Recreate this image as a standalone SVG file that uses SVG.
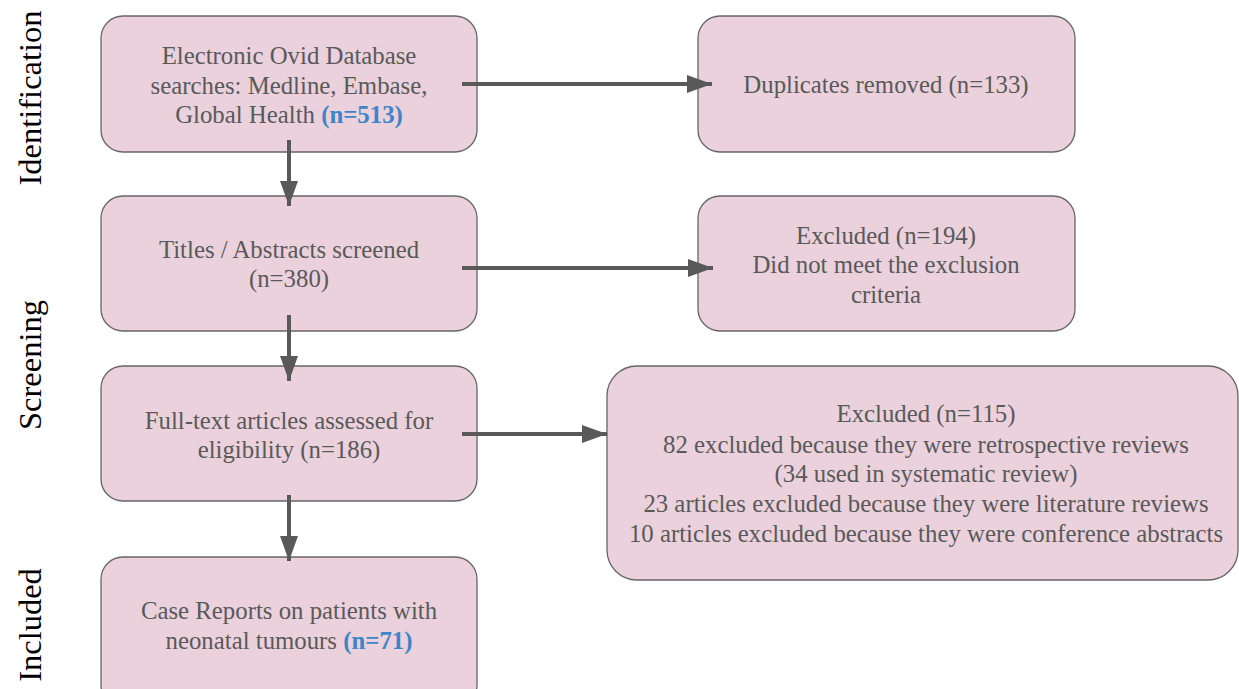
<svg xmlns="http://www.w3.org/2000/svg" width="1239" height="689" viewBox="0 0 1239 689">
<defs>
<style>
.box{fill:#ead1dc;stroke:#666;stroke-width:1.3}
.t{font-family:"Liberation Serif","Times New Roman",serif;font-size:24.8px;fill:#595959;text-anchor:middle}
.n{fill:#3d85c6;font-weight:bold}
.side{font-family:"Liberation Serif","Times New Roman",serif;font-size:32.5px;fill:#000;text-anchor:middle}
.c{stroke:#595959;stroke-width:4;fill:none}
</style>
<marker id="ah" viewBox="0 0 25 18" refX="25" refY="9" markerWidth="6.25" markerHeight="4.5" markerUnits="strokeWidth" orient="auto">
<path d="M0,0 L25,9 L0,18 z" fill="#595959"/>
</marker>
</defs>
<rect width="1239" height="689" fill="#fff"/>
<g id="labels">
<text class="side" transform="translate(41,98) rotate(-90)">Identification</text>
<text class="side" transform="translate(41,365) rotate(-90)">Screening</text>
<text class="side" transform="translate(41,625) rotate(-90)">Included</text>
</g>
<g id="n1"><rect class="box" x="101" y="16" width="376" height="136" rx="22"/>
<text class="t" x="289" y="64">Electronic Ovid Database</text>
<text class="t" x="289" y="94">searches: Medline, Embase,</text>
<text class="t" x="289" y="123">Global Health <tspan class="n">(n=513)</tspan></text></g>
<g id="n2"><rect class="box" x="698" y="16" width="377" height="136" rx="22"/>
<text class="t" x="886" y="93">Duplicates removed (n=133)</text></g>
<g id="n3"><rect class="box" x="101" y="196" width="376" height="135" rx="22"/>
<text class="t" x="289" y="258">Titles / Abstracts screened</text>
<text class="t" x="289" y="287">(n=380)</text></g>
<g id="n4"><rect class="box" x="698" y="196" width="377" height="135" rx="22"/>
<text class="t" x="886" y="244">Excluded (n=194)</text>
<text class="t" x="886" y="273">Did not meet the exclusion</text>
<text class="t" x="886" y="303">criteria</text></g>
<g id="n5"><rect class="box" x="101" y="366" width="376" height="135" rx="22"/>
<text class="t" x="289" y="429">Full-text articles assessed for</text>
<text class="t" x="289" y="458">eligibility (n=186)</text></g>
<g id="n6"><rect class="box" x="607" y="366" width="631" height="214" rx="30"/>
<text class="t" x="926" y="422">Excluded (n=115)</text>
<text class="t" x="926" y="453">82 excluded because they were retrospective reviews</text>
<text class="t" x="926" y="482">(34 used in systematic review)</text>
<text class="t" x="926" y="512">23 articles excluded because they were literature reviews</text>
<text class="t" x="926" y="542">10 articles excluded because they were conference abstracts</text></g>
<g id="n7"><rect class="box" x="101" y="557" width="376" height="150" rx="22"/>
<text class="t" x="289" y="619">Case Reports on patients with</text>
<text class="t" x="289" y="649">neonatal tumours <tspan class="n">(n=71)</tspan></text></g>
<g id="connectors">
<line class="c" x1="462" y1="84" x2="712" y2="84" marker-end="url(#ah)"/>
<line class="c" x1="462" y1="268" x2="713" y2="268" marker-end="url(#ah)"/>
<line class="c" x1="462" y1="434" x2="607" y2="434" marker-end="url(#ah)"/>
<line class="c" x1="289" y1="140" x2="289" y2="206" marker-end="url(#ah)"/>
<line class="c" x1="289" y1="315" x2="289" y2="381" marker-end="url(#ah)"/>
<line class="c" x1="289" y1="495" x2="289" y2="561" marker-end="url(#ah)"/>
</g>
</svg>
